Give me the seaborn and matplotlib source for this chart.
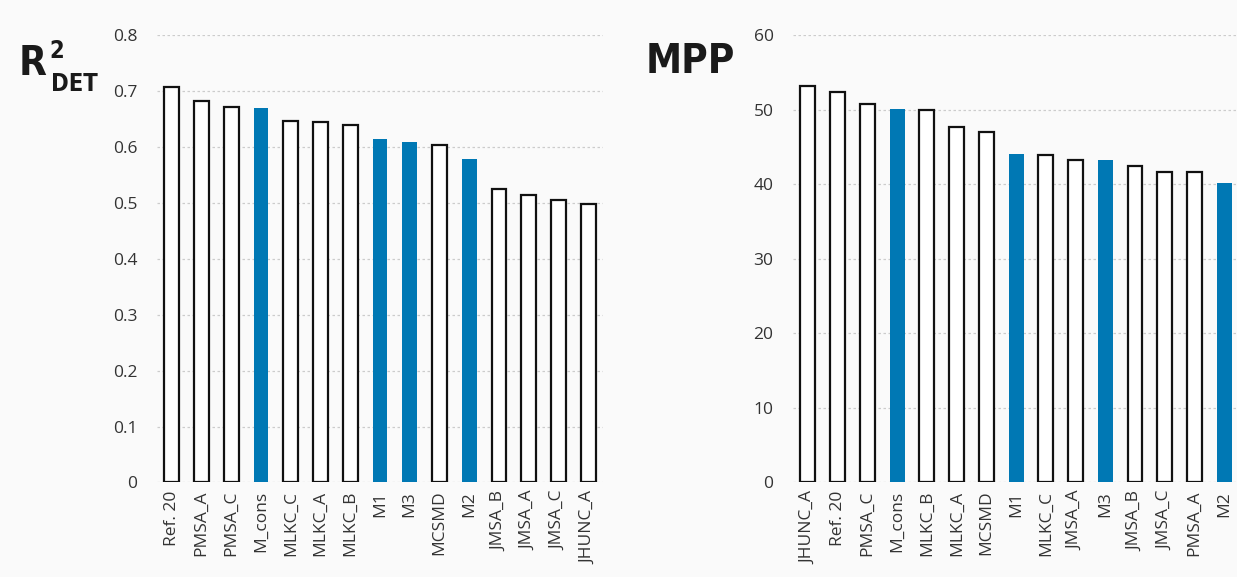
import seaborn as sns
import matplotlib.pyplot as plt
from matplotlib import font_manager

# R2 DET data (left panel)
r2_labels = ['Ref. 20', 'PMSA_A', 'PMSA_C', 'M_cons', 'MLKC_C', 'MLKC_A', 'MLKC_B',
             'M1', 'M3', 'MCSMD', 'M2', 'JMSA_B', 'JMSA_A', 'JMSA_C', 'JHUNC_A']
r2_values = [0.707, 0.682, 0.672, 0.670, 0.647, 0.645, 0.639,
             0.614, 0.608, 0.604, 0.579, 0.524, 0.514, 0.505, 0.498]

# MPP data (right panel)
mpp_labels = ['JHUNC_A', 'Ref. 20', 'PMSA_C', 'M_cons', 'MLKC_B', 'MLKC_A', 'MCSMD',
              'M1', 'MLKC_C', 'JMSA_A', 'M3', 'JMSA_B', 'JMSA_C', 'PMSA_A', 'M2']
mpp_values = [53.1, 52.3, 50.8, 50.1, 50.0, 47.7, 47.0,
              44.0, 43.9, 43.2, 43.3, 42.4, 41.7, 41.7, 40.2]

# our models are highlighted in blue
ours = ['M_cons', 'M1', 'M2', 'M3']
BLUE = '#0078b4'
BG = '#fafafa'

sns.set_theme(style='white')
names = {f.name for f in font_manager.fontManager.ttflist}
tick_font = 'Open Sans' if 'Open Sans' in names else 'DejaVu Sans'
plt.rcParams['font.family'] = [tick_font, 'DejaVu Sans']

# look for a narrow bold face for the big titles
narrow = None
for f in font_manager.fontManager.ttflist:
    cond = ('ondensed' in f.name or 'Narrow' in f.name or
            str(f.stretch) in ('condensed', 'semi-condensed', 'extra-condensed', 'ultra-condensed'))
    if cond and (f.weight in ('bold', 700, 'heavy', 800, 900) or 'Bold' in f.fname):
        narrow = f.fname
        break
if narrow:
    title_fp = font_manager.FontProperties(fname=narrow)
else:
    title_fp = font_manager.FontProperties(family='Roboto', weight='bold')
big, sup, sub = 29, 17, 17

fig = plt.figure(figsize=(12.37, 5.77), dpi=100, facecolor=BG)
ax1 = fig.add_axes([0.1269, 0.1638, 0.3606, 0.7755])
ax2 = fig.add_axes([0.6411, 0.1638, 0.3606, 0.7755])


def draw(ax, labels, values, ymax, step, fmt):
    pal = {l: (BLUE if l in ours else 'white') for l in labels}
    sns.barplot(x=labels, y=values, hue=labels, palette=pal, legend=False,
                width=0.5, saturation=1, ax=ax, zorder=3)
    for p in ax.patches:
        fc = p.get_facecolor()
        if fc[0] > 0.9:
            p.set_edgecolor('#111111')
            p.set_linewidth(1.6)
        else:
            p.set_edgecolor('none')
    ax.set_facecolor(BG)
    ax.set_xlim(-0.5, len(labels) - 0.5)
    ax.set_ylim(0, ymax)
    ticks = [i * step for i in range(int(round(ymax / step)) + 1)]
    ax.set_yticks(ticks)
    ax.set_yticklabels([fmt(t) for t in ticks])
    ax.yaxis.grid(True, linestyle=(0, (2, 2)), color='#cccccc', linewidth=0.9, zorder=0)
    ax.set_axisbelow(True)
    for s in ax.spines.values():
        s.set_visible(False)
    ax.tick_params(axis='y', length=0, pad=14, labelsize=12.5, labelcolor='#333333')
    ax.tick_params(axis='x', length=0, pad=6, labelsize=12.5, labelcolor='#333333',
                   labelrotation=90)
    ax.set_xlabel('')
    ax.set_ylabel('')


draw(ax1, r2_labels, r2_values, 0.8, 0.1, lambda t: '0' if t == 0 else f'{t:.1f}')
draw(ax2, mpp_labels, mpp_values, 60, 10, lambda t: f'{t:.0f}')

fig.text(0.015, 0.87, 'R', fontproperties=title_fp, fontsize=big, color='#1a1a1a')
fig.text(0.040, 0.9, '2', fontproperties=title_fp, fontsize=sup, color='#1a1a1a')
fig.text(0.041, 0.842, 'DET', fontproperties=title_fp, fontsize=sub, color='#1a1a1a')
fig.text(0.522, 0.874, 'MPP', fontproperties=title_fp, fontsize=big, color='#1a1a1a')

fig.savefig('out.png', dpi=100, facecolor=BG)
